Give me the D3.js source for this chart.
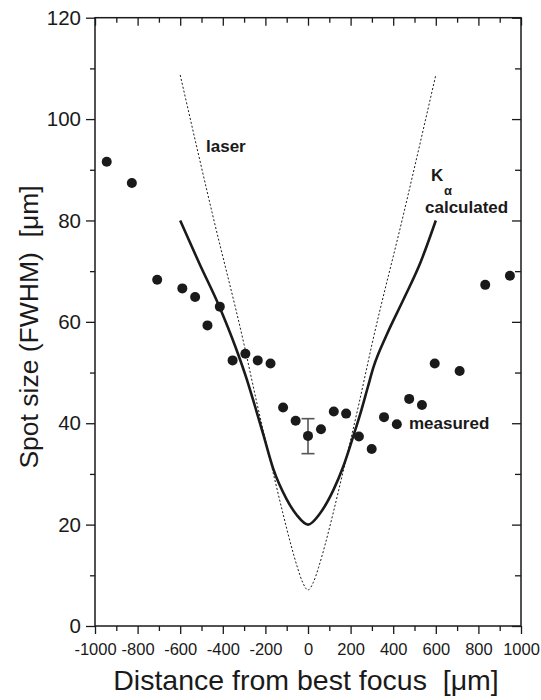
<!DOCTYPE html>
<html>
<head>
<meta charset="utf-8">
<script src="https://cdn.jsdelivr.net/npm/d3@7"></script>
<style>
    body { margin: 0; background: #fff; }
    svg { font-family: "Liberation Sans", Arial, sans-serif; }
</style>
</head>
<body>
<svg id="chart" width="541" height="700"></svg>
<script>
// measured spot size (FWHM) vs distance from best focus
let measuredX = [-945, -827, -708, -590, -530, -472, -414, -354, -294, -236, -176, -117, -58, 0,
    61, 121, 179, 239, 299, 357, 417, 475, 535, 595, 712, 832, 948];
let measuredY = [91.6, 87.4, 68.3, 66.6, 64.9, 59.3, 63.0, 52.4, 53.7, 52.4, 51.8, 43.1, 40.5, 37.5,
    38.8, 42.3, 41.9, 37.4, 34.9, 41.2, 39.8, 44.8, 43.6, 51.8, 50.3, 67.3, 69.1];

// error bar on the point at best focus
let errX = 0;
let errLow = 34.0;
let errHigh = 40.9;

// K-alpha calculated curve
let calcX = [-600, -510, -416, -340, -290, -250, -210, -163, -100, -53, 0, 56, 119, 166, 213, 250, 280, 307, 369, 447, 526, 600];
let calcY = [80, 71.5, 63, 55, 49, 43.5, 37.8, 31, 25, 21.9, 20, 22.2, 26.8, 31.5, 37.5, 42.5, 47, 51, 57.4, 64.3, 71.5, 80];

// laser beam (dotted)
let laserX = [-600, -450, -300, -240, -160, -120, -80, -50, -25, 0, 25, 50, 80, 120, 160, 240, 300, 450, 600];
let laserY = [108.7, 81.5, 55.5, 44, 29.6, 22.6, 16, 11.6, 8.6, 7.1, 8.6, 11.6, 16, 22.6, 29.6, 44, 55.5, 81.5, 108.7];

let xMajor = d3.range(-1000, 1001, 200);
let xMinor = d3.range(-900, 1000, 200);
let yMajor = d3.range(0, 121, 20);
let yMinor = d3.range(10, 120, 20);

let svg = d3.select("#chart");

let x = d3.scaleLinear().domain([-1000, 1000]).range([95, 521]);
let y = d3.scaleLinear().domain([0, 120]).range([626, 17.7]);

let ink = "#1a1a1a";
let plain = (d) => String(d); // hyphen minus, like the original

// axes
function styleAxis(g) {
    g.select(".domain").remove();
    g.selectAll(".tick line").attr("stroke", ink).attr("stroke-width", 1.3);
    g.selectAll(".tick text").attr("fill", ink);
}

svg.append("g")
    .attr("transform", `translate(0,${y(0)})`)
    .call(d3.axisBottom(x).tickValues(xMajor).tickSize(8).tickPadding(9).tickFormat(plain))
    .call(styleAxis)
    .selectAll("text").style("font-size", "16.5px");
svg.append("g")
    .attr("transform", `translate(0,${y(0)})`)
    .call(d3.axisBottom(x).tickValues(xMinor).tickSize(5).tickFormat(""))
    .call(styleAxis);

svg.append("g")
    .attr("transform", `translate(0,${y(120)})`)
    .call(d3.axisTop(x).tickValues(xMajor).tickSize(-8).tickFormat(""))
    .call(styleAxis);
svg.append("g")
    .attr("transform", `translate(0,${y(120)})`)
    .call(d3.axisTop(x).tickValues(xMinor).tickSize(-5).tickFormat(""))
    .call(styleAxis);

svg.append("g")
    .attr("transform", `translate(${x(-1000)},0)`)
    .call(d3.axisLeft(y).tickValues(yMajor).tickSize(9).tickPadding(5).tickFormat(plain))
    .call(styleAxis)
    .selectAll("text").style("font-size", "20.5px");
svg.append("g")
    .attr("transform", `translate(${x(-1000)},0)`)
    .call(d3.axisLeft(y).tickValues(yMinor).tickSize(5).tickFormat(""))
    .call(styleAxis);

svg.append("g")
    .attr("transform", `translate(${x(1000)},0)`)
    .call(d3.axisRight(y).tickValues(yMajor).tickSize(-9).tickFormat(""))
    .call(styleAxis);
svg.append("g")
    .attr("transform", `translate(${x(1000)},0)`)
    .call(d3.axisRight(y).tickValues(yMinor).tickSize(-6).tickFormat(""))
    .call(styleAxis);

// frame
svg.append("rect")
    .attr("x", x(-1000))
    .attr("y", y(120))
    .attr("width", x(1000) - x(-1000))
    .attr("height", y(0) - y(120))
    .attr("fill", "none")
    .attr("stroke", ink)
    .attr("stroke-width", 1.5);

// curves
let line = d3.line()
    .x((d) => x(d[0]))
    .y((d) => y(d[1]))
    .curve(d3.curveMonotoneX);

svg.append("path")
    .datum(d3.zip(laserX, laserY))
    .attr("d", line)
    .attr("fill", "none")
    .attr("stroke", ink)
    .attr("stroke-width", 1)
    .attr("stroke-dasharray", "2,2");

svg.append("path")
    .datum(d3.zip(calcX, calcY))
    .attr("d", line)
    .attr("fill", "none")
    .attr("stroke", ink)
    .attr("stroke-width", 2.6);

// error bar
let eb = svg.append("g").attr("stroke", "#555").attr("stroke-width", 1.6);
eb.append("line")
    .attr("x1", x(errX)).attr("x2", x(errX))
    .attr("y1", y(errLow)).attr("y2", y(errHigh));
[errLow, errHigh].forEach((v) => {
    eb.append("line")
        .attr("x1", x(errX) - 6.5).attr("x2", x(errX) + 6.5)
        .attr("y1", y(v)).attr("y2", y(v));
});

// measured points
svg.append("g")
    .selectAll("circle")
    .data(d3.zip(measuredX, measuredY))
    .enter()
    .append("circle")
    .attr("cx", (d) => x(d[0]))
    .attr("cy", (d) => y(d[1]))
    .attr("r", 5)
    .attr("fill", ink);

// annotations
let note = svg.append("g")
    .attr("fill", ink)
    .style("font-weight", "bold")
    .style("font-size", "17px");
note.append("text").attr("x", 206).attr("y", 152).text("laser");
note.append("text").attr("x", 431).attr("y", 181).text("K");
note.append("text").attr("x", 444).attr("y", 195).style("font-size", "13px").text("α");
note.append("text").attr("x", 425).attr("y", 213).text("calculated");
note.append("text").attr("x", 409).attr("y", 429).text("measured");

// axis titles
svg.append("text")
    .attr("x", 306)
    .attr("y", 690)
    .attr("text-anchor", "middle")
    .attr("fill", ink)
    .style("font-size", "28.5px")
    .style("white-space", "pre")
    .text("Distance from best focus  [μm]");

svg.append("text")
    .attr("transform", "translate(38,327) rotate(-90)")
    .attr("text-anchor", "middle")
    .attr("fill", ink)
    .style("font-size", "26.5px")
    .style("white-space", "pre")
    .text("Spot size (FWHM)  [μm]");
</script>
</body>
</html>
